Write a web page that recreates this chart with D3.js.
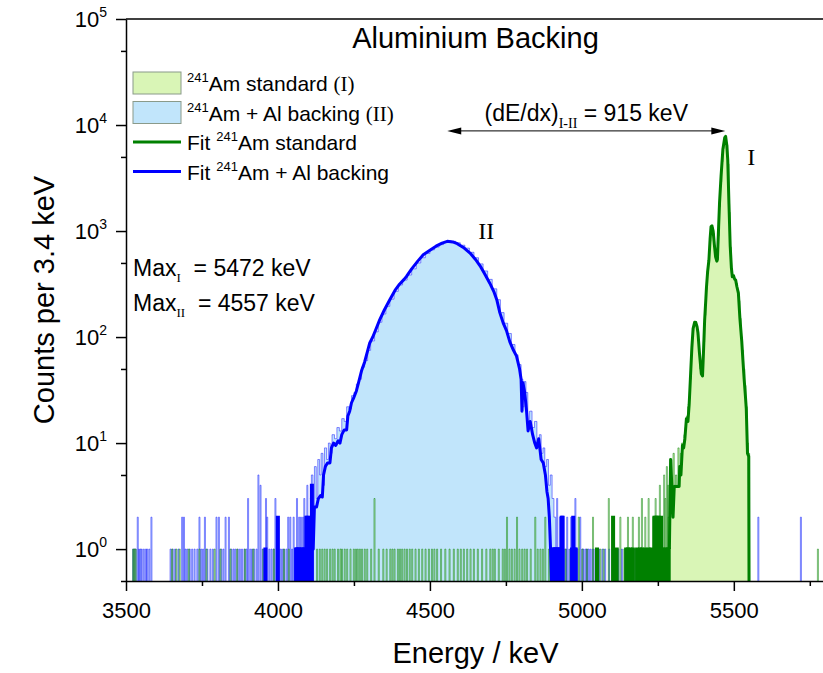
<!DOCTYPE html>
<html lang="en">
  <head>
    <meta charset="utf-8" />
    <title>Aluminium Backing</title>
    <script src="https://cdn.jsdelivr.net/npm/d3@7"></script>
    <style>
      body {
        margin: 0;
        background: #fff;
      }

      svg {
        display: block;
        font-family: "Liberation Sans", Arial, sans-serif;
      }

      .axis path,
      .axis line {
        stroke: #000;
        stroke-width: 1.5;
      }

      .serif {
        font-family: "Liberation Serif", "Times New Roman", serif;
      }
    </style>
  </head>

  <body>
    <svg id="chart"></svg>

    <script>
      const binWidth = 3.4;

      // raw spectrum II (241Am + Al backing), continuous part [energy keV, counts]
      const rawBackingPeak = [
        [4105, 3], [4110, 5], [4115, 2], [4120, 6], [4126, 3], [4131, 7], [4137, 5], [4142, 8],
        [4148, 4], [4153, 9], [4160, 7], [4166, 10], [4172, 8], [4178, 12], [4186, 11], [4194, 14],
        [4202, 13], [4210, 17], [4218, 16], [4226, 22], [4234, 21], [4242, 28], [4250, 30], [4258, 36],
        [4266, 40], [4275, 52], [4285, 60], [4295, 75], [4305, 92], [4318, 112], [4330, 138], [4342, 165],
        [4355, 195], [4368, 228], [4382, 270], [4396, 310], [4410, 345], [4425, 385], [4440, 440],
        [4455, 500], [4470, 560], [4485, 615], [4500, 665], [4515, 705], [4530, 745], [4545, 780],
        [4557, 810], [4570, 800], [4585, 775], [4600, 735], [4615, 690], [4630, 630], [4645, 560],
        [4660, 490], [4675, 420], [4690, 350], [4705, 285], [4720, 225], [4732, 170], [4744, 135],
        [4756, 108], [4768, 85], [4780, 68], [4790, 55], [4800, 40], [4806, 22], [4810, 38], [4816, 30],
        [4822, 16], [4828, 20], [4836, 14], [4844, 16], [4852, 10], [4860, 12], [4866, 8], [4872, 9],
        [4878, 6], [4884, 7], [4890, 4], [4896, 5], [4902, 3], [4908, 2], [4914, 0]
      ];

      // raw spectrum II, isolated background bins
      const rawBackingSpikes = [
        [3522, 1], [3526, 1], [3530, 1], [3537, 2], [3541, 1], [3546, 1], [3550, 1], [3557, 1],
        [3564, 1], [3568, 1], [3575, 1], [3582, 2], [3645, 1], [3652, 1], [3660, 1], [3671, 1],
        [3683, 2], [3689, 2], [3694, 1], [3700, 1], [3708, 1], [3716, 1], [3724, 1], [3733, 1],
        [3740, 2], [3746, 1], [3752, 1], [3758, 2], [3766, 1], [3776, 1], [3784, 1], [3796, 2],
        [3804, 2], [3812, 1], [3819, 1], [3826, 2], [3837, 2], [3845, 1], [3852, 1], [3858, 1],
        [3866, 1], [3873, 1], [3880, 1], [3888, 1], [3895, 1], [3900, 3], [3907, 1], [3913, 1],
        [3920, 1], [3928, 1], [3934, 5], [3941, 4], [3948, 1], [3959, 3], [3963, 2], [3970, 1],
        [3977, 1], [3984, 1], [3990, 3], [3998, 2], [4006, 1], [4012, 1], [4018, 1], [4026, 1],
        [4032, 2], [4039, 2], [4045, 1], [4050, 2], [4056, 1], [4061, 3], [4068, 2], [4074, 2],
        [4081, 2], [4085, 3], [4089, 2], [4095, 4], [4100, 2],
        [4917, 3], [4922, 1], [4926, 2], [4933, 2], [4940, 1], [4946, 1], [4950, 2], [4957, 1],
        [4963, 2], [4970, 1], [4977, 3], [4984, 1], [4993, 2], [5000, 1], [5004, 1], [5011, 1],
        [5015, 1], [5020, 1], [5026, 1], [5033, 1], [5037, 1], [5045, 1], [5055, 1], [5066, 1],
        [5075, 1], [5088, 1], [5102, 1], [5118, 1], [5130, 1], [5152, 1], [5172, 1], [5205, 1],
        [5236, 1], [5579, 2], [5719, 2]
      ];

      // raw spectrum I (241Am standard), continuous part
      const rawStandardPeak = [
        [5288, 2], [5292, 7], [5296, 3], [5300, 8], [5304, 4], [5308, 5], [5312, 4], [5316, 9],
        [5320, 5], [5324, 8], [5328, 10], [5332, 9], [5336, 12], [5340, 14], [5344, 18], [5348, 22],
        [5352, 26], [5356, 40], [5360, 75], [5364, 115], [5368, 135], [5372, 140], [5376, 130],
        [5380, 105], [5384, 70], [5388, 50], [5392, 44], [5396, 45], [5400, 90], [5404, 160],
        [5408, 280], [5412, 420], [5416, 520], [5420, 800], [5424, 1100], [5428, 1080], [5432, 950],
        [5436, 700], [5440, 560], [5444, 540], [5448, 900], [5452, 1700], [5456, 2900], [5460, 4500],
        [5464, 6000], [5468, 7200], [5472, 7900], [5476, 6500], [5480, 4300], [5484, 1500], [5488, 700],
        [5492, 400], [5496, 370], [5500, 355], [5504, 345], [5508, 320], [5512, 270], [5516, 220],
        [5520, 150], [5524, 100], [5528, 75], [5532, 50], [5536, 35], [5540, 22], [5544, 10],
        [5548, 8], [5552, 0]
      ];

      // raw spectrum I, isolated background bins
      const rawStandardSpikes = [
        [3522, 1], [3526, 1], [3530, 1], [3650, 1], [3664, 1], [3675, 1], [3705, 1], [3740, 1],
        [3763, 1], [3790, 1], [3809, 1], [3842, 1], [3864, 1], [3890, 1], [3917, 1], [3950, 1],
        [3985, 1], [4018, 1], [4034, 1], [4067, 1], [4089, 1], [4127, 1], [4136, 1], [4144, 1],
        [4152, 1], [4160, 1], [4170, 1], [4178, 1], [4185, 1], [4196, 1], [4204, 1], [4209, 1],
        [4218, 1], [4226, 1], [4237, 1], [4248, 1], [4255, 1], [4261, 1], [4268, 1], [4275, 1],
        [4284, 1], [4292, 1], [4305, 1], [4316, 3], [4330, 1], [4345, 1], [4356, 1], [4368, 1],
        [4375, 1], [4382, 1], [4393, 1], [4400, 1], [4407, 1], [4415, 1], [4423, 1], [4432, 1],
        [4440, 1], [4451, 1], [4462, 1], [4473, 1], [4484, 1], [4495, 1], [4505, 1], [4513, 1],
        [4522, 1], [4535, 1], [4549, 1], [4563, 1], [4577, 1], [4590, 1], [4600, 1], [4610, 1],
        [4621, 1], [4632, 1], [4643, 1], [4656, 1], [4670, 1], [4684, 1], [4697, 1], [4705, 1],
        [4712, 1], [4725, 1], [4738, 1], [4745, 1], [4752, 2], [4760, 1], [4768, 1], [4777, 1],
        [4785, 2], [4793, 1], [4802, 1], [4810, 1], [4818, 1], [4830, 1], [4845, 2], [4853, 1],
        [4862, 1], [4870, 1], [4878, 2], [4890, 1], [4900, 1], [4928, 1], [4945, 1], [4961, 1],
        [4975, 1], [4988, 2], [5000, 1], [5015, 1], [5035, 2], [5048, 1], [5059, 1], [5070, 1],
        [5087, 3], [5101, 2], [5113, 1], [5125, 2], [5138, 1], [5144, 1], [5150, 2], [5158, 1],
        [5166, 2], [5172, 1], [5180, 1], [5186, 2], [5190, 1], [5196, 3], [5203, 1], [5207, 2],
        [5214, 1], [5218, 3], [5226, 1], [5233, 2], [5237, 2], [5241, 3], [5246, 2], [5251, 2],
        [5255, 4], [5259, 2], [5265, 1], [5269, 5], [5273, 3], [5278, 6], [5282, 4], [5284, 2],
        [5775, 1]
      ];

      // fit curves
      const fitBacking = [
        [4113, 1], [4116, 1], [4120, 2.5], [4127, 2.5], [4133, 3], [4140, 3.2], [4146, 3.1], [4150, 5],
        [4156, 6], [4163, 6.5], [4171, 6.5], [4176, 9], [4183, 10], [4190, 9.5], [4198, 10.5],
        [4204, 10], [4210, 12], [4218, 13.3], [4226, 13.3], [4230, 18], [4236, 20], [4242, 24],
        [4250, 27], [4258, 31], [4266, 38], [4275, 48], [4285, 58], [4295, 74], [4302, 88],
        [4312, 100], [4322, 118], [4335, 146], [4350, 180], [4368, 225], [4385, 275], [4400, 315],
        [4415, 350], [4423, 373], [4440, 440], [4460, 520], [4478, 597], [4500, 660], [4520, 720],
        [4540, 770], [4557, 800], [4575, 790], [4590, 760], [4610, 700], [4632, 620], [4650, 540],
        [4665, 470], [4680, 395], [4697, 322], [4710, 270], [4720, 225], [4730, 170], [4741, 136],
        [4752, 115], [4763, 90], [4775, 75], [4785, 66], [4795, 50], [4800, 40], [4803, 20],
        [4806, 37], [4812, 30], [4818, 20], [4823, 13], [4830, 16], [4838, 12], [4845, 10],
        [4851, 9], [4858, 11], [4866, 7], [4873, 6.5], [4880, 5], [4885, 3.5], [4889, 3],
        [4893, 2], [4897, 1], [4900, 0]
      ];

      const fitBackingTail = [
        [3957, 1], [3998, 2], [4058, 1], [4061, 1], [4065, 1], [4068, 1], [4075, 1], [4078, 1],
        [4085, 1], [4088, 1], [4092, 2], [4095, 2], [4099, 1], [4103, 1], [4106, 2], [4110, 4],
        [4903, 1], [4906, 1], [4910, 1], [4913, 1], [4917, 1], [4920, 1], [4925, 1], [4928, 1],
        [4932, 2], [4935, 2], [4966, 1], [4970, 2], [4974, 1], [4978, 1]
      ];

      const fitStandard = [
        [5288, 1], [5292, 7], [5296, 4], [5300, 2], [5304, 3.9], [5312, 3.9], [5320, 3.9], [5322, 6],
        [5326, 5], [5331, 9.5], [5335, 9], [5339, 11], [5344, 17], [5349, 16], [5353, 23], [5357, 40],
        [5362, 80], [5366, 120], [5371, 138], [5375, 137], [5379, 125], [5382, 110], [5387, 70],
        [5393, 45], [5397, 43], [5400, 70], [5404, 145], [5408, 230], [5410, 295], [5414, 420],
        [5418, 530], [5422, 850], [5425, 1100], [5428, 1120], [5432, 1000], [5436, 740], [5440, 570],
        [5444, 520], [5446, 540], [5450, 1100], [5453, 1850], [5458, 3300], [5464, 5900], [5470, 7600],
        [5473, 7800], [5477, 6400], [5480, 4700], [5484, 1800], [5488, 730], [5492, 450], [5495, 370],
        [5499, 380], [5503, 350], [5506, 345], [5510, 300], [5515, 260], [5520, 150], [5526, 92],
        [5530, 60], [5534, 40], [5538, 28], [5541, 21], [5545, 8], [5549, 7.5], [5550, 0]
      ];

      const fitStandardTail = [
        [5048, 1], [5101, 2], [5113, 1], [5144, 1], [5150, 1], [5158, 1], [5166, 1], [5180, 1],
        [5190, 1], [5196, 1], [5207, 1], [5218, 1], [5226, 1], [5237, 2], [5241, 2], [5246, 2],
        [5251, 2], [5259, 2], [5265, 1], [5273, 1], [5280, 1], [5284, 1]
      ];

      // axis ticks and annotations
      const xMajorTicks = [3500, 4000, 4500, 5000, 5500];
      const xMinorTicks = [3750, 4250, 4750, 5250, 5750];
      const yMajorTicks = [1, 10, 100, 1000, 10000, 100000];
      const yMinorTicks = [0.5, 5, 50, 500, 5000, 50000];
      const peakMax = [5472, 4557]; // Max_I, Max_II
      const peakHeight = [7800, 800];
      const arrowCount = 8800;
      const stoppingText = "915 keV";

      const margin = { top: 19, left: 126 };
      const width = 699;
      const height = 562;

      const svg = d3.select("#chart").attr("width", 823).attr("height", 673);
      const g = svg.append("g").attr("transform", `translate(${margin.left},${margin.top})`);

      const x = d3.scaleLinear().domain([3500, 5800]).range([0, width]);
      const y = d3.scaleLog().domain([0.5, 100000]).range([height, 0]);
      const yc = c => y(Math.max(c, 0.5));

      g.append("clipPath")
        .attr("id", "plot-clip")
        .append("rect")
        .attr("width", width)
        .attr("height", height);

      const plot = g.append("g").attr("clip-path", "url(#plot-clip)");

      const stepArea = d3
        .area()
        .curve(d3.curveStepAfter)
        .x(d => x(d[0]))
        .y0(height)
        .y1(d => yc(d[1]));
      const stepLine = d3
        .line()
        .curve(d3.curveStepAfter)
        .x(d => x(d[0]))
        .y(d => yc(d[1]));
      const fitLine = d3
        .line()
        .x(d => x(d[0]))
        .y(d => yc(d[1]));

      function spikePath(d) {
        const x0 = x(d[0]);
        const x1 = x(d[0] + binWidth);
        return `M${x0},${height}V${yc(d[1])}H${x1}V${height}`;
      }

      const blueFill = "#c1e5fb";
      const greenFill = "#d9f5b6";
      const blueRaw = "rgba(40,40,255,0.55)";
      const greenRaw = "rgba(0,128,0,0.5)";

      // fills
      plot.append("path").datum(rawBackingPeak).attr("d", stepArea).attr("fill", blueFill);
      plot
        .selectAll(".blue-spike-fill")
        .data(rawBackingSpikes)
        .join("path")
        .attr("class", "blue-spike-fill")
        .attr("d", spikePath)
        .attr("fill", blueFill);
      plot.append("path").datum(rawStandardPeak).attr("d", stepArea).attr("fill", greenFill);

      // raw histogram outlines
      plot
        .append("path")
        .datum(rawBackingPeak)
        .attr("d", stepLine)
        .attr("fill", "none")
        .attr("stroke", blueRaw)
        .attr("stroke-width", 1);
      plot
        .selectAll(".blue-spike")
        .data(rawBackingSpikes)
        .join("path")
        .attr("class", "blue-spike")
        .attr("d", spikePath)
        .attr("fill", "none")
        .attr("stroke", blueRaw)
        .attr("stroke-width", 1);
      plot
        .append("path")
        .datum(rawStandardPeak)
        .attr("d", stepLine)
        .attr("fill", "none")
        .attr("stroke", greenRaw)
        .attr("stroke-width", 1);
      plot
        .selectAll(".green-spike")
        .data(rawStandardSpikes)
        .join("path")
        .attr("class", "green-spike")
        .attr("d", spikePath)
        .attr("fill", "rgba(200,240,170,0.5)")
        .attr("stroke", greenRaw)
        .attr("stroke-width", 1);

      // fits
      plot
        .selectAll(".blue-fit-tail")
        .data(fitBackingTail)
        .join("path")
        .attr("class", "blue-fit-tail")
        .attr("d", spikePath)
        .attr("fill", "none")
        .attr("stroke", "#0000ff")
        .attr("stroke-width", 3);
      plot
        .append("path")
        .datum(fitBacking)
        .attr("d", fitLine)
        .attr("fill", "none")
        .attr("stroke", "#0000ff")
        .attr("stroke-width", 3)
        .attr("stroke-linejoin", "round");
      plot
        .selectAll(".green-fit-tail")
        .data(fitStandardTail)
        .join("path")
        .attr("class", "green-fit-tail")
        .attr("d", spikePath)
        .attr("fill", "none")
        .attr("stroke", "#008000")
        .attr("stroke-width", 3);
      plot
        .append("path")
        .datum(fitStandard)
        .attr("d", fitLine)
        .attr("fill", "none")
        .attr("stroke", "#008000")
        .attr("stroke-width", 3)
        .attr("stroke-linejoin", "round");

      // axes
      const xAxis = g
        .append("g")
        .attr("class", "axis")
        .attr("transform", `translate(0,${height})`)
        .call(
          d3
            .axisBottom(x)
            .tickValues(xMajorTicks)
            .tickFormat(d3.format("d"))
            .tickSize(10)
            .tickSizeOuter(0)
            .tickPadding(11)
        );
      xAxis.selectAll("text").attr("font-size", 22).attr("font-family", "Liberation Sans, Arial, sans-serif");
      g.append("g")
        .attr("class", "axis")
        .attr("transform", `translate(0,${height})`)
        .call(d3.axisBottom(x).tickValues(xMinorTicks).tickSize(5).tickSizeOuter(0).tickFormat(""))
        .select(".domain")
        .remove();

      g.append("g")
        .attr("class", "axis")
        .call(d3.axisLeft(y).tickValues(yMajorTicks).tickSize(10).tickSizeOuter(0).tickFormat(""));
      g.append("g")
        .attr("class", "axis")
        .call(d3.axisLeft(y).tickValues(yMinorTicks).tickSize(5).tickSizeOuter(0).tickFormat(""))
        .select(".domain")
        .remove();

      g.append("line")
        .attr("x1", 0)
        .attr("x2", width)
        .attr("y1", 0)
        .attr("y2", 0)
        .attr("stroke", "#000")
        .attr("stroke-width", 1.5);

      const yLabels = g
        .selectAll(".y-label")
        .data(yMajorTicks)
        .join("text")
        .attr("class", "y-label")
        .attr("x", -19)
        .attr("y", d => y(d))
        .attr("dy", "0.35em")
        .attr("text-anchor", "end")
        .attr("font-size", 22);
      yLabels.append("tspan").text("10");
      yLabels
        .append("tspan")
        .attr("font-size", 14)
        .attr("dy", -10)
        .text(d => Math.round(Math.log10(d)));

      // axis titles
      g.append("text")
        .attr("x", width / 2)
        .attr("y", 644)
        .attr("text-anchor", "middle")
        .attr("font-size", 29)
        .text("Energy / keV");
      g.append("text")
        .attr("transform", `translate(${54 - margin.left},${height / 2}) rotate(-90)`)
        .attr("text-anchor", "middle")
        .attr("font-size", 29)
        .text("Counts per 3.4 keV");

      // title
      g.append("text")
        .attr("x", width / 2)
        .attr("y", 29)
        .attr("text-anchor", "middle")
        .attr("font-size", 29)
        .text("Aluminium Backing");

      // legend
      const legend = g.append("g").attr("transform", "translate(7,53)");
      const legendItems = [
        { kind: "box", fill: greenFill, label: "Am standard ", roman: "(I)" },
        { kind: "box", fill: blueFill, label: "Am + Al backing ", roman: "(II)" },
        { kind: "line", stroke: "#008000", pre: "Fit ", label: "Am standard" },
        { kind: "line", stroke: "#0000ff", pre: "Fit ", label: "Am + Al backing" }
      ];
      legendItems.forEach((item, i) => {
        const rowY = i * 29.5;
        if (item.kind === "box") {
          legend
            .append("rect")
            .attr("x", 0)
            .attr("y", rowY)
            .attr("width", 48)
            .attr("height", 22)
            .attr("fill", item.fill)
            .attr("stroke", "#8a9a8a")
            .attr("stroke-width", 1);
        } else {
          legend
            .append("line")
            .attr("x1", 0)
            .attr("x2", 48)
            .attr("y1", rowY + 11)
            .attr("y2", rowY + 11)
            .attr("stroke", item.stroke)
            .attr("stroke-width", 3);
        }
        const t = legend
          .append("text")
          .attr("x", 54)
          .attr("y", rowY + 19)
          .attr("font-size", 21);
        if (item.pre) t.append("tspan").text(item.pre);
        t.append("tspan").attr("font-size", 13).attr("dy", -9).text("241");
        t.append("tspan").attr("dy", 9).text(item.label);
        if (item.roman) t.append("tspan").attr("class", "serif").text(item.roman);
      });

      // peak maxima text
      const maxLabels = ["I", "II"];
      peakMax.forEach((e, i) => {
        const t = g
          .append("text")
          .attr("x", 7)
          .attr("y", 257 + i * 35)
          .attr("font-size", 23);
        t.append("tspan").text("Max");
        t.append("tspan").attr("class", "serif").attr("font-size", 13).attr("dy", 6).text(maxLabels[i]);
        t.append("tspan").attr("dy", -6).text(`\u00a0 = ${e} keV`);
      });

      // peak labels
      g.append("text")
        .attr("class", "serif")
        .attr("x", x(peakMax[0]) + 22)
        .attr("y", y(peakHeight[0]) + 29)
        .attr("font-size", 24)
        .text("I");
      g.append("text")
        .attr("class", "serif")
        .attr("x", x(peakMax[1]) + 31)
        .attr("y", y(peakHeight[1]) - 2)
        .attr("font-size", 24)
        .text("II");

      // dE/dx arrow
      const ax0 = x(peakMax[1]);
      const ax1 = x(peakMax[0]);
      const ay = y(arrowCount);
      g.append("line")
        .attr("x1", ax0 + 6)
        .attr("x2", ax1 - 6)
        .attr("y1", ay)
        .attr("y2", ay)
        .attr("stroke", "#000")
        .attr("stroke-width", 1);
      g.append("path")
        .attr("d", `M${ax0},${ay}l14,-3.5v7z M${ax1},${ay}l-14,-3.5v7z`)
        .attr("fill", "#000");
      const dt = g
        .append("text")
        .attr("x", (ax0 + ax1) / 2)
        .attr("y", ay - 10)
        .attr("text-anchor", "middle")
        .attr("font-size", 23);
      dt.append("tspan").text("(dE/dx)");
      dt.append("tspan").attr("class", "serif").attr("font-size", 14).attr("dy", 7).text("I-II");
      dt.append("tspan").attr("dy", -7).text(` = ${stoppingText}`);
    </script>
  </body>
</html>
